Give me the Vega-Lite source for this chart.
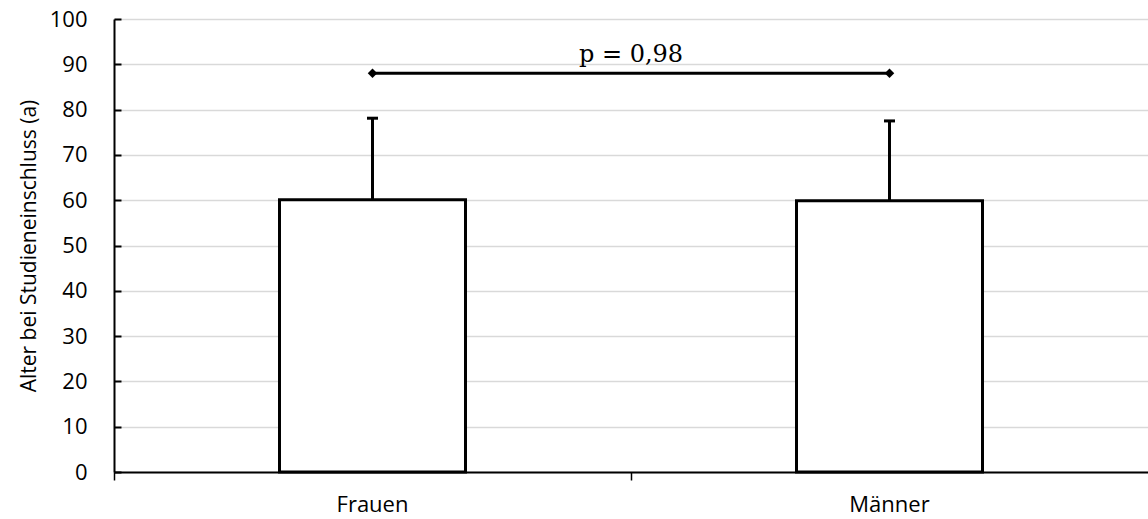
{
  "$schema": "https://vega.github.io/schema/vega-lite/v6.json",
  "width": 1034,
  "height": 453,
  "autosize": {"type": "none"},
  "padding": {"left": 114, "top": 19, "right": 0, "bottom": 47},
  "background": "white",
  "config": {
    "view": {"stroke": null},
    "font": "Open Sans"
  },
  "datasets": {
    "bars": [
      {"Geschlecht": "Frauen", "mean": 60.1, "upper": 78.1},
      {"Geschlecht": "Männer", "mean": 59.9, "upper": 77.5}
    ],
    "bracket": [
      {"Geschlecht": "Frauen", "y": 88},
      {"Geschlecht": "Männer", "y": 88}
    ],
    "label": [
      {"pos": 0.5, "y": 90.5, "text": "p = 0,98"}
    ]
  },
  "layer": [
    {
      "data": {"name": "bars"},
      "layer": [
        {
          "mark": {"type": "bar", "size": 186, "fill": "white", "stroke": "black", "strokeWidth": 3},
          "encoding": {
            "x": {
              "field": "Geschlecht", "type": "nominal",
              "scale": {"paddingInner": 0, "paddingOuter": 0},
              "axis": {
                "title": null, "labelAngle": 0, "labelFontSize": 22, "labelColor": "black",
                "labelPadding": 14, "bandPosition": 0, "tickSize": 8, "tickColor": "black",
                "tickWidth": 1.5, "domainColor": "black", "domainWidth": 2, "grid": false
              }
            },
            "y": {
              "field": "mean", "type": "quantitative",
              "scale": {"domain": [0, 100]},
              "axis": {
                "title": "Alter bei Studieneinschluss (a)", "titleFontSize": 21, "titleFontWeight": "normal",
                "titleColor": "black", "titlePadding": 10,
                "values": [0, 10, 20, 30, 40, 50, 60, 70, 80, 90, 100],
                "labelFontSize": 22, "labelColor": "black", "labelPadding": 34,
                "tickSize": -7, "tickColor": "black", "tickWidth": 2,
                "domainColor": "black", "domainWidth": 2,
                "grid": true, "gridColor": "#d9d9d9", "gridWidth": 1.5
              }
            }
          }
        },
        {
          "mark": {"type": "rule", "stroke": "black", "strokeWidth": 3},
          "encoding": {
            "x": {"field": "Geschlecht", "type": "nominal"},
            "y": {"field": "mean", "type": "quantitative"},
            "y2": {"field": "upper"}
          }
        },
        {
          "mark": {"type": "tick", "color": "black", "size": 11, "thickness": 3, "opacity": 1},
          "encoding": {
            "x": {"field": "Geschlecht", "type": "nominal"},
            "y": {"field": "upper", "type": "quantitative"}
          }
        },
        {
          "data": {"name": "bracket"},
          "mark": {"type": "line", "color": "black", "strokeWidth": 3, "point": {"shape": "diamond", "size": 90, "filled": true, "color": "black", "opacity": 1}},
          "encoding": {
            "x": {"field": "Geschlecht", "type": "nominal"},
            "y": {"field": "y", "type": "quantitative"}
          }
        }
      ]
    },
    {
      "data": {"name": "label"},
      "mark": {"type": "text", "font": "DejaVu Serif", "fontSize": 24, "baseline": "alphabetic", "align": "center", "color": "black"},
      "encoding": {
        "x": {"field": "pos", "type": "quantitative", "scale": {"domain": [0, 1]}, "axis": null},
        "y": {"field": "y", "type": "quantitative"},
        "text": {"field": "text"}
      }
    }
  ],
  "resolve": {"scale": {"x": "independent"}}
}
